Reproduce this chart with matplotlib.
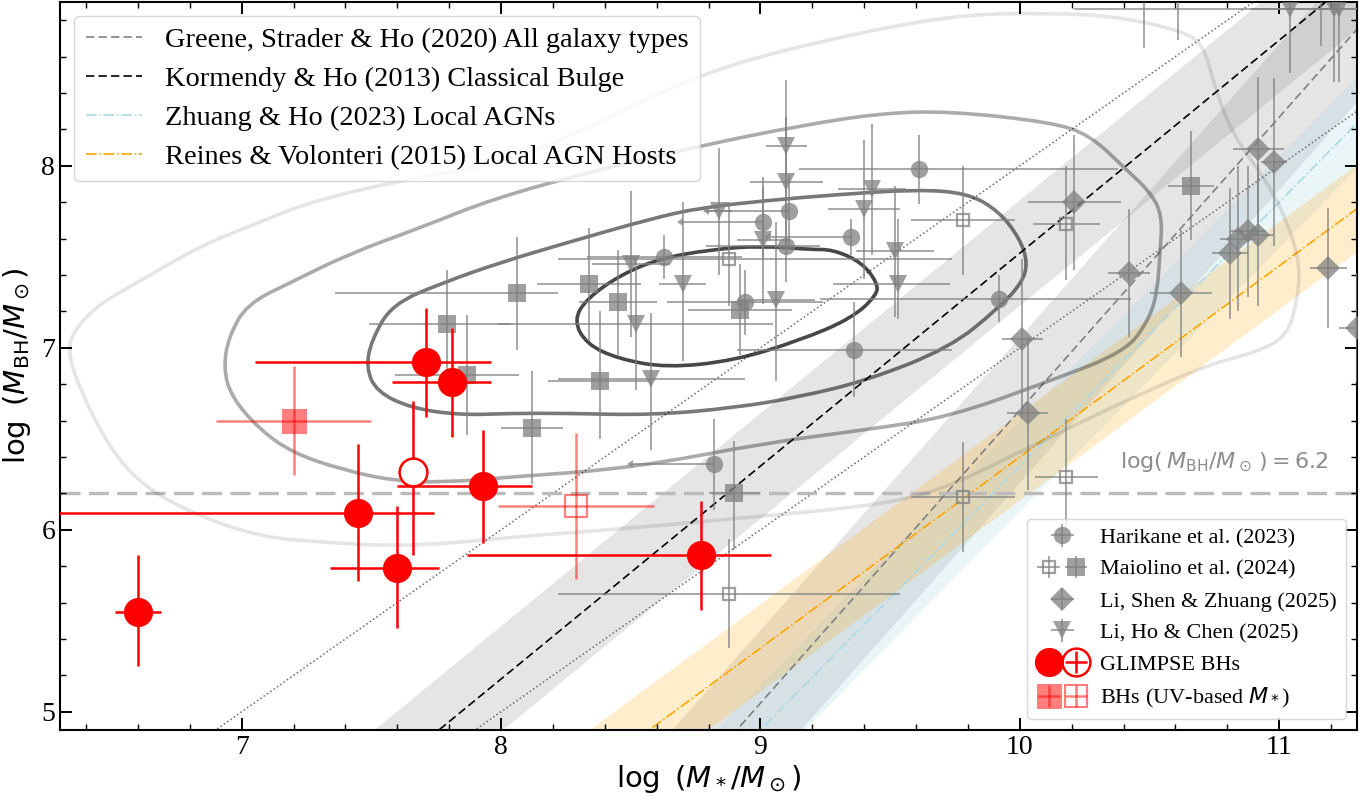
import numpy as np
import matplotlib.pyplot as plt
from matplotlib.path import Path
from matplotlib.patches import PathPatch
from matplotlib.ticker import MultipleLocator
from matplotlib.legend_handler import HandlerTuple

plt.rcParams['font.family'] = ['Liberation Serif', 'DejaVu Serif']
plt.rcParams['mathtext.fontset'] = 'dejavusans'

# local relations: normalisation at pivot, slope, pivot log M*, half-width of band
greene = (7.43, 1.61, 10.48, 0.40)
kormendy = (8.69, 1.17, 11.0, 0.29)
zhuang = (6.35, 1.45, 10.0, 0.25)
reines = (7.45, 1.05, 11.0, 0.24)
mass_ratios = [-2.0, -3.0]   # log(M_BH/M*)
mbh_cut = 6.2

# density contours of the local sample (outer -> inner)
c1_x = [6.33, 6.35, 6.45, 6.60, 6.84, 7.07, 7.26, 7.61, 8.04, 8.38, 8.76, 9.15, 9.73, 10.12,
        10.38, 10.63, 10.71, 10.75, 10.82, 10.97, 11.05, 11.08, 11.07, 11.03, 10.90, 10.73,
        10.44, 10.22, 9.99, 9.73, 9.54, 9.28, 8.96, 8.51, 8.04, 7.84, 7.58, 7.33, 7.07, 6.81,
        6.62, 6.49, 6.38]
c1_y = [6.97, 7.09, 7.24, 7.36, 7.56, 7.69, 7.80, 7.92, 8.02, 8.24, 8.50, 8.66, 8.83, 8.84,
        8.82, 8.74, 8.66, 8.44, 8.17, 7.88, 7.62, 7.44, 7.26, 7.06, 6.97, 6.91,
        6.73, 6.58, 6.42, 6.24, 6.16, 6.11, 6.07, 6.01, 5.96, 5.93, 5.91, 5.93, 5.96, 6.09,
        6.24, 6.45, 6.76]
c2_x = [7.97, 7.69, 7.42, 7.19, 7.02, 6.95, 6.93, 6.96, 7.07, 7.20, 7.39, 7.58, 7.78, 8.04,
        8.51, 9.03, 9.41, 9.73, 10.12, 10.41, 10.50, 10.53, 10.54, 10.55, 10.50, 10.41, 10.27,
        10.12, 9.73, 9.47, 9.15, 8.77, 8.38]
c2_y = [7.82, 7.66, 7.52, 7.36, 7.24, 7.06, 6.89, 6.73, 6.55, 6.42, 6.33, 6.27, 6.26, 6.29,
        6.34, 6.48, 6.55, 6.62, 6.82, 6.98, 7.16, 7.31, 7.51, 7.73, 7.86, 7.98, 8.17,
        8.24, 8.30, 8.29, 8.22, 8.11, 7.98]
c3_x = [8.00, 7.78, 7.58, 7.50, 7.48, 7.52, 7.65, 7.84, 8.04, 8.26, 8.58, 8.90, 9.15, 9.41,
        9.73, 9.92, 10.01, 10.03, 10.00, 9.92, 9.80, 9.60, 9.28, 9.03, 8.77, 8.58, 8.26]
c3_y = [7.47, 7.36, 7.24, 7.04, 6.89, 6.76, 6.67, 6.63, 6.64, 6.64, 6.63, 6.67, 6.73, 6.82,
        7.00, 7.22, 7.36, 7.47, 7.60, 7.75, 7.85, 7.87, 7.84, 7.81, 7.77, 7.71, 7.58]
c4_x = [9.19, 9.00, 8.81, 8.61, 8.46, 8.33, 8.28, 8.33, 8.45, 8.64, 8.90, 9.15, 9.35, 9.45,
        9.45, 9.39, 9.28]
c4_y = [7.54, 7.56, 7.54, 7.49, 7.40, 7.27, 7.15, 7.02, 6.94, 6.89, 6.93, 7.04, 7.16, 7.29,
        7.36, 7.47, 7.54]

# Harikane et al. (2023); last four are upper limits on M*
har_x = [9.61, 8.63, 8.94, 9.10, 9.36, 9.92, 9.01, 9.11, 9.35, 8.82]
har_y = [7.98, 7.50, 7.25, 7.56, 6.99, 7.27, 7.69, 7.75, 7.61, 6.36]
har_xlo = [0.46, 0.30, 0.30, 0.31, 0.45, 0.69, 0.31, 0.31, 0.31, 0.31]
har_xhi = [0.77, 0.30, 0.30, 0.13, 0.38, 0.51, 0.0, 0.0, 0.0, 0.0]
har_yerr = [0.19, 0.12, 0.18, 0.20, 0.26, 0.13, 0.20, 0.20, 0.10, 0.25]
har_lim = [False] * 6 + [True] * 4

# Maiolino et al. (2024)
mai_x = [8.06, 8.34, 8.45, 8.92, 7.79, 7.87, 8.12, 8.38, 8.90, 10.66]
mai_y = [7.30, 7.35, 7.25, 7.21, 7.13, 6.85, 6.56, 6.82, 6.20, 7.89]
mai_xlo = [0.70, 0.20, 0.15, 0.20, 0.30, 0.28, 0.12, 0.20, 0.10, 0.09]
mai_xhi = [0.16, 0.20, 0.15, 0.20, 0.25, 0.20, 0.12, 0.20, 0.10, 0.09]
mai_ylo = [0.31, 0.31, 0.29, 0.25, 0.30, 0.33, 0.31, 0.32, 0.31, 0.30]
mai_yhi = [0.31, 0.31, 0.29, 0.25, 0.30, 0.33, 0.31, 0.38, 0.29, 0.30]
maio_x = [8.88, 9.78, 10.18, 9.78, 10.18, 8.88]
maio_y = [7.49, 7.70, 7.68, 6.18, 6.29, 5.65]
maio_xlo = [0.66, 0.20, 0.13, 0.20, 0.12, 0.66]
maio_xhi = [0.86, 0.20, 0.13, 0.20, 0.12, 0.66]
maio_ylo = [0.26, 0.30, 0.31, 0.30, 0.29, 0.30]
maio_yhi = [0.31, 0.30, 0.32, 0.30, 0.32, 0.30]

# Li, Shen & Zhuang (2025)
lsz_x = [10.21, 10.42, 10.62, 10.01, 10.03, 10.92, 10.98, 10.81, 10.84, 10.88, 10.92, 11.19, 11.30]
lsz_y = [7.80, 7.41, 7.30, 7.05, 6.64, 8.09, 8.02, 7.52, 7.60, 7.64, 7.62, 7.44, 7.11]
lsz_xerr = [0.18, 0.08, 0.12, 0.08, 0.08, 0.10, 0.05, 0.07, 0.07, 0.07, 0.06, 0.07, 0.07]
lsz_yerr = [0.37, 0.35, 0.35, 0.44, 0.42, 0.40, 0.46, 0.36, 0.40, 0.36, 0.39, 0.33, 0.30]

# Li, Ho & Chen (2025)
lhc_x = [9.10, 9.10, 8.84, 9.01, 9.43, 9.40, 9.52, 9.53, 8.50, 8.70, 9.06, 8.52, 8.58,
         11.04, 11.21, 11.23, 10.48, 10.61, 11.16]
lhc_y = [8.11, 7.91, 7.75, 7.59, 7.87, 7.76, 7.53, 7.35, 7.46, 7.35, 7.26, 7.13, 6.83,
         8.86, 8.86, 8.86, 9.05, 9.05, 9.10]
lhc_xlo = [0.08, 0.14, 0.05, 0.10, 0.13, 0.14, 0.15, 0.25, 0.15, 0.09, 0.15, 0.53, 0.36,
           0.15, 1.00, 0.10, 0.15, 0.15, 0.15]
lhc_xhi = [0.08, 0.14, 0.05, 0.10, 0.13, 0.14, 0.15, 0.20, 0.15, 0.09, 0.15, 0.53, 0.36,
           0.15, 0.10, 0.10, 0.15, 0.15, 0.15]
lhc_ylo = [0.36, 0.36, 0.35, 0.35, 0.36, 0.38, 0.36, 0.19, 0.40, 0.42, 0.44, 0.36, 0.39,
           0.35, 0.40, 0.40, 0.40, 0.36, 0.44]
lhc_yhi = [0.36, 0.36, 0.35, 0.35, 0.36, 0.38, 0.36, 0.36, 0.40, 0.45, 0.43, 0.36, 0.36,
           0.35, 0.40, 0.40, 0.40, 0.36, 0.44]

# GLIMPSE broad-line AGNs
gl_x = [6.60, 7.45, 7.60, 7.71, 7.81, 7.93, 8.77]
gl_y = [5.55, 6.09, 5.79, 6.92, 6.81, 6.24, 5.86]
gl_xlo = [0.09, 1.30, 0.26, 0.66, 0.23, 0.33, 0.90]
gl_xhi = [0.09, 0.29, 0.16, 0.25, 0.15, 0.19, 0.27]
gl_ylo = [0.30, 0.37, 0.33, 0.30, 0.30, 0.31, 0.30]
gl_yhi = [0.31, 0.38, 0.34, 0.30, 0.30, 0.31, 0.30]
glo_x = [7.66]
glo_y = [6.32]
glo_ylo = [0.46]
glo_yhi = [0.39]

# BHs with UV-based stellar masses
uv_x, uv_y, uv_xerr, uv_yerr = [7.20], [6.60], [0.30], [0.30]
uvo_x, uvo_y, uvo_xerr, uvo_yerr = [8.29], [6.13], [0.30], [0.40]


def smooth_loop(xs, ys):
    # closed quadratic-bezier path through the midpoints of the outline
    pts = np.column_stack([xs, ys])
    mids = 0.5 * (pts + np.roll(pts, -1, axis=0))
    verts = [mids[-1]]
    codes = [Path.MOVETO]
    for p, m in zip(pts, mids):
        verts += [p, m]
        codes += [Path.CURVE3, Path.CURVE3]
    return Path(verts, codes)


fig, ax = plt.subplots(figsize=(13.71, 8), dpi=100)
fig.subplots_adjust(left=0.0438, right=0.9898, top=0.9975, bottom=0.0875)

mstar = np.linspace(6.0, 11.6, 300)


def relation(norm, slope, pivot):
    return norm + slope * (mstar - pivot)


# scatter bands
for rel, col, a in [(kormendy, 'gray', 0.2), (greene, 'gray', 0.2),
                    (zhuang, 'lightblue', 0.25), (reines, 'orange', 0.2)]:
    yy = relation(*rel[:3])
    ax.fill_between(mstar, yy - rel[3], yy + rel[3], color=col, alpha=a, lw=0, zorder=0)

for r in mass_ratios:
    ax.plot(mstar, mstar + r, ls=':', color='dimgray', lw=1.1, zorder=1)

l1, = ax.plot(mstar, relation(*greene[:3]), ls=(0, (5, 2.5)), color='gray', lw=1.2, zorder=1.2)
l2, = ax.plot(mstar, relation(*kormendy[:3]), ls=(0, (5, 2.5)), color='black', lw=1.2, zorder=1.2)
l3, = ax.plot(mstar, relation(*zhuang[:3]), ls='-.', color='lightblue', lw=1.2, zorder=1.2)
l4, = ax.plot(mstar, relation(*reines[:3]), ls='-.', color='orange', lw=1.2, zorder=1.2)

ax.axhline(mbh_cut, color='#bbbbbb', ls=(0, (6, 2.5)), lw=2.4, zorder=1.5)
ax.text(11.19, mbh_cut + 0.14, r'$\log(\,M_{\rm BH}/M_\odot\,)=%.1f$' % mbh_cut,
        color='#8c8c8c', fontsize=16, ha='right', va='baseline')

# contours
for cx, cy, a in [(c1_x, c1_y, 0.1), (c2_x, c2_y, 0.33), (c3_x, c3_y, 0.53), (c4_x, c4_y, 0.72)]:
    ax.add_patch(PathPatch(smooth_loop(cx, cy), fill=False, edgecolor='black', alpha=a,
                           lw=2.6, zorder=2))

# high-z comparison samples
gkw = dict(color='gray', alpha=0.75, elinewidth=1.3, zorder=3)
har = ax.errorbar(har_x, har_y, xerr=[har_xlo, har_xhi], yerr=har_yerr, xuplims=har_lim,
                  fmt='o', ms=12.5, mew=0, **gkw)
mai = ax.errorbar(mai_x, mai_y, xerr=[mai_xlo, mai_xhi], yerr=[mai_ylo, mai_yhi],
                  fmt='s', ms=13, mew=0, **gkw)
maio = ax.errorbar(maio_x, maio_y, xerr=[maio_xlo, maio_xhi], yerr=[maio_ylo, maio_yhi],
                   fmt='s', ms=8.5, mfc='none', mec='gray', mew=1.6, **gkw)
lsz = ax.errorbar(lsz_x, lsz_y, xerr=lsz_xerr, yerr=lsz_yerr, fmt='D', ms=12, mew=0, **gkw)
lhc = ax.errorbar(lhc_x, lhc_y, xerr=[lhc_xlo, lhc_xhi], yerr=[lhc_ylo, lhc_yhi],
                  fmt='v', ms=13, mew=0, **gkw)
lhc_key = ax.errorbar([np.nan], [np.nan], xerr=[0.1], yerr=[0.1], xuplims=[True],
                      fmt='v', ms=13, mew=0, **gkw)

# GLIMPSE
rkw = dict(color='red', elinewidth=1.8, zorder=6)
gl = ax.errorbar(gl_x, gl_y, xerr=[gl_xlo, gl_xhi], yerr=[gl_ylo, gl_yhi], fmt='o', ms=21,
                 mew=0, **rkw)
ax.errorbar(glo_x, glo_y, yerr=[glo_ylo, glo_yhi], fmt='o', ms=20, mfc='white', mec='red',
            mew=1.8, **rkw)
glo_key = ax.errorbar([np.nan], [np.nan], xerr=[0.1], yerr=[0.1], fmt='o', ms=20,
                      mfc='none', mec='red', mew=1.8, **rkw)
uv = ax.errorbar(uv_x, uv_y, xerr=uv_xerr, yerr=uv_yerr, fmt='s', ms=18, mew=0, alpha=0.5, **rkw)
uvo = ax.errorbar(uvo_x, uvo_y, xerr=uvo_xerr, yerr=uvo_yerr, fmt='s', ms=16, mfc='none',
                  mec='red', mew=1.6, alpha=0.5, **rkw)

ax.set_xlim(6.3, 11.3)
ax.set_ylim(4.9, 8.9)
ax.set_xticks([7, 8, 9, 10, 11])
ax.set_yticks([5, 6, 7, 8])
ax.xaxis.set_minor_locator(MultipleLocator(0.2))
ax.yaxis.set_minor_locator(MultipleLocator(0.2))
ax.tick_params(which='both', direction='in', top=True, right=True, labelsize=20)
ax.tick_params(which='major', length=8.5, width=1.4)
ax.tick_params(which='minor', length=4, width=1.0)
for s in ax.spines.values():
    s.set_linewidth(1.5)

ax.set_xlabel(r'$\log\ (M_*/M_\odot)$', fontsize=21, labelpad=2)
ax.set_ylabel(r'$\log\ (M_{\rm BH}/M_\odot)$', fontsize=21, labelpad=6)

leg1 = ax.legend([l1, l2, l3, l4],
                 ['Greene, Strader & Ho (2020) All galaxy types',
                  'Kormendy & Ho (2013) Classical Bulge',
                  'Zhuang & Ho (2023) Local AGNs',
                  'Reines & Volonteri (2015) Local AGN Hosts'],
                 loc='upper left', fontsize=20.4, labelspacing=0.46)
ax.add_artist(leg1)

ax.legend([har, (maio, mai), lsz, lhc_key, (gl, glo_key), (uv, uvo)],
          ['Harikane et al. (2023)', 'Maiolino et al. (2024)', 'Li, Shen & Zhuang (2025)',
           'Li, Ho & Chen (2025)', 'GLIMPSE BHs', r'BHs (UV-based $M_*$)'],
          loc='lower right', fontsize=16, handlelength=2.4, handletextpad=0.5,
          labelspacing=0.5, handler_map={tuple: HandlerTuple(ndivide=None, pad=0.1)})

fig.savefig('out.png', dpi=100)
